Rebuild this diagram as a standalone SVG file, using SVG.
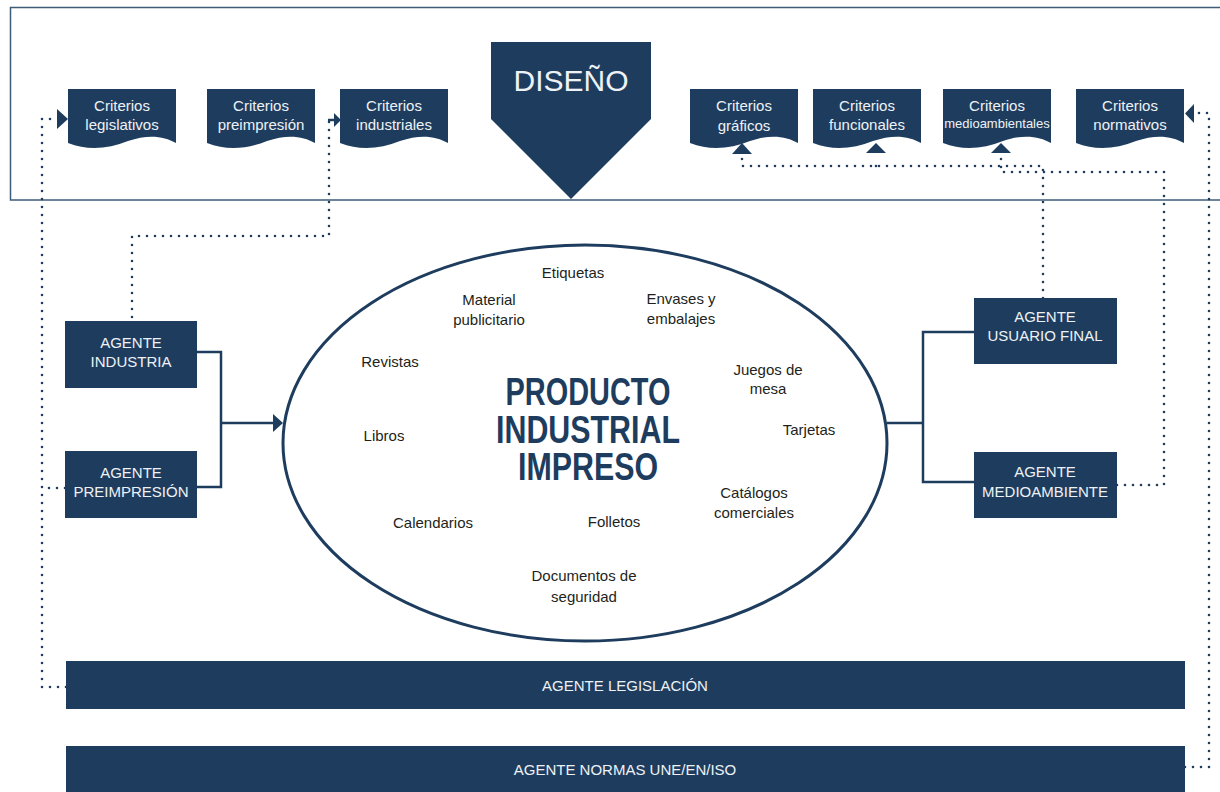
<svg xmlns="http://www.w3.org/2000/svg" width="1220" height="792" viewBox="0 0 1220 792">
<style>
.nav{fill:#1e3d5e}
.wt{fill:#eef2f6;font-family:"Liberation Sans",Arial,sans-serif;font-size:15px;text-anchor:middle}
.dk{fill:#231f20;font-family:"Liberation Sans",Arial,sans-serif;font-size:15px;text-anchor:middle}
.big{fill:#1e3d5e;font-family:"Liberation Sans",Arial,sans-serif;font-size:39px;font-weight:bold;text-anchor:middle}
.dot{fill:none;stroke:#1e3d5e;stroke-width:2.6;stroke-linecap:round;stroke-dasharray:0 8}
.sol{fill:none;stroke:#1e3d5e;stroke-width:2.5}
</style>
<defs>
<path id="doc" d="M0,0 H108 V54 C96,47 80,45 60,52 C40,60 20,62 0,54 Z"/>
</defs>
<rect x="10.5" y="7.5" width="1230" height="192.5" fill="none" stroke="#3e5b78" stroke-width="1.5"/>

<g id="diseno">
<polygon class="nav" points="491,42 651,42 651,119 571,199 491,119"/>
<text x="571" y="91" style="fill:#eef2f6;font-family:'Liberation Sans',Arial,sans-serif;font-size:30px;text-anchor:middle">DISEÑO</text>
</g>

<g id="crit-legislativos"><use href="#doc" x="68" y="89" class="nav"/><text class="wt" x="122" y="111">Criterios</text><text class="wt" x="122" y="130">legislativos</text></g>
<g id="crit-preimpresion"><use href="#doc" x="207" y="89" class="nav"/><text class="wt" x="261" y="111">Criterios</text><text class="wt" x="261" y="130">preimpresión</text></g>
<g id="crit-industriales"><use href="#doc" x="340" y="89" class="nav"/><text class="wt" x="394" y="111">Criterios</text><text class="wt" x="394" y="130">industriales</text></g>
<g id="crit-graficos"><use href="#doc" x="690" y="89" class="nav"/><text class="wt" x="744" y="111">Criterios</text><text class="wt" x="744" y="131">gráficos</text></g>
<g id="crit-funcionales"><use href="#doc" x="813" y="89" class="nav"/><text class="wt" x="867" y="111">Criterios</text><text class="wt" x="867" y="130">funcionales</text></g>
<g id="crit-medioambientales"><use href="#doc" x="943" y="89" class="nav"/><text class="wt" x="997" y="111">Criterios</text><text class="wt" x="997" y="128" style="font-size:13px">medioambientales</text></g>
<g id="crit-normativos"><use href="#doc" x="1076" y="89" class="nav"/><text class="wt" x="1130" y="111">Criterios</text><text class="wt" x="1130" y="130">normativos</text></g>

<g id="producto">
<ellipse cx="585" cy="443" rx="302" ry="198" fill="#fff" stroke="#1e3d5e" stroke-width="3"/>
<text class="big" x="588" y="405" textLength="165" lengthAdjust="spacingAndGlyphs">PRODUCTO</text>
<text class="big" x="588" y="443" textLength="184" lengthAdjust="spacingAndGlyphs">INDUSTRIAL</text>
<text class="big" x="588" y="480" textLength="140" lengthAdjust="spacingAndGlyphs">IMPRESO</text>
<text class="dk" x="573" y="278">Etiquetas</text>
<text class="dk" x="489" y="305">Material</text>
<text class="dk" x="489" y="325">publicitario</text>
<text class="dk" x="681" y="304">Envases y</text>
<text class="dk" x="681" y="324">embalajes</text>
<text class="dk" x="390" y="367">Revistas</text>
<text class="dk" x="768" y="375">Juegos de</text>
<text class="dk" x="768" y="394">mesa</text>
<text class="dk" x="809" y="435">Tarjetas</text>
<text class="dk" x="384" y="441">Libros</text>
<text class="dk" x="754" y="498">Catálogos</text>
<text class="dk" x="754" y="518">comerciales</text>
<text class="dk" x="433" y="528">Calendarios</text>
<text class="dk" x="614" y="527">Folletos</text>
<text class="dk" x="584" y="581">Documentos de</text>
<text class="dk" x="584" y="602">seguridad</text>
</g>

<g id="ag-industria"><rect class="nav" x="65" y="321" width="132" height="67"/><text class="wt" x="131" y="348">AGENTE</text><text class="wt" x="131" y="367">INDUSTRIA</text></g>
<g id="ag-preimpresion"><rect class="nav" x="65" y="451" width="132" height="67"/><text class="wt" x="131" y="478">AGENTE</text><text class="wt" x="131" y="497">PREIMPRESIÓN</text></g>
<g id="ag-usuario"><rect class="nav" x="974" y="298" width="143" height="66"/><text class="wt" x="1045" y="322">AGENTE</text><text class="wt" x="1045" y="341">USUARIO FINAL</text></g>
<g id="ag-medioambiente"><rect class="nav" x="974" y="452" width="143" height="66"/><text class="wt" x="1045" y="477">AGENTE</text><text class="wt" x="1045" y="497">MEDIOAMBIENTE</text></g>
<g id="ag-legislacion"><rect class="nav" x="66" y="661" width="1119" height="48"/><text class="wt" x="625" y="691">AGENTE LEGISLACIÓN</text></g>
<g id="ag-normas"><rect class="nav" x="66" y="746" width="1119" height="50"/><text class="wt" x="625" y="775">AGENTE NORMAS UNE/EN/ISO</text></g>

<g id="connectors">
<path class="sol" d="M197,352 H221 V487 H197 M221,423 H274"/>
<polygon class="nav" points="273,414 283,423 273,432"/>
<path class="sol" d="M887,423 H923 M974,332 H923 V482 H974"/>
<path class="dot" d="M66,687 H42 V119 H52"/>
<path class="dot" d="M65,488 H42"/>
<polygon class="nav" points="57,109 68,119 57,129"/>
<path class="dot" d="M132,317 V236 H329 V120"/>
<path class="sol" d="M328,120 H335" stroke-width="2"/>
<polygon class="nav" points="334,113 341,120 334,127"/>
<path class="dot" d="M1043,298 V166 H742 V158"/>
<path class="dot" d="M876,166 V158"/>
<path class="dot" d="M1117,485 H1164 V172 H1001 V158"/>
<polygon class="nav" points="732,154 742,143 752,154"/>
<polygon class="nav" points="866,153 876,143 886,153"/>
<polygon class="nav" points="991,153 1001,143 1011,153"/>
<path class="dot" d="M1185,767 H1209 V113 H1197"/>
<polygon class="nav" points="1194,104 1185,113.5 1194,123"/>
</g>
</svg>
